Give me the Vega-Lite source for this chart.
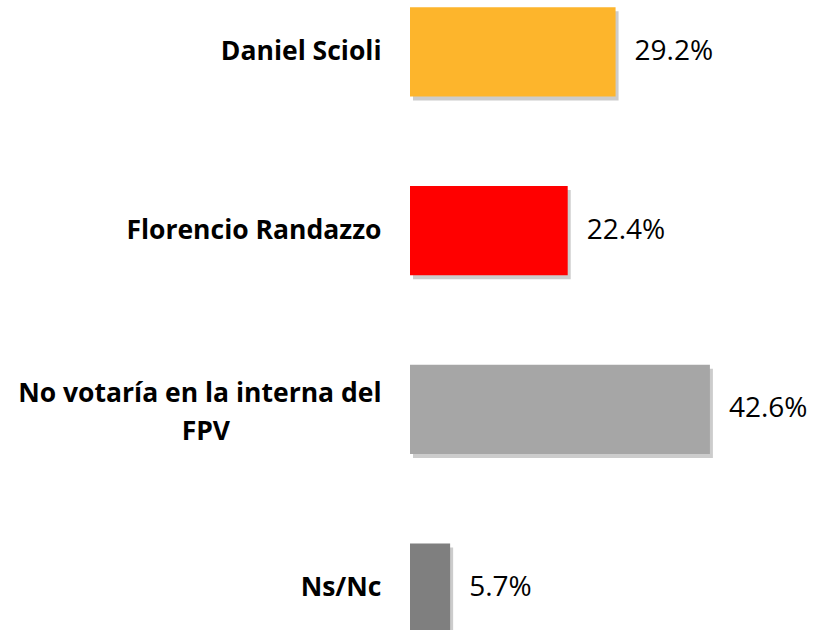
{
  "$schema": "https://vega.github.io/schema/vega-lite/v6.json",
  "autosize": "none",
  "width": 352,
  "height": 640,
  "padding": {"left": 410, "top": 0, "right": 60, "bottom": 0},
  "background": "white",
  "config": {"view": {"stroke": null}},
  "data": {"values": [
    {"cat": "Daniel Scioli", "value": 29.2, "color": "#FDB52C"},
    {"cat": "Florencio Randazzo", "value": 22.4, "color": "#FF0000"},
    {"cat": "No votaría en la interna del|FPV\u00a0\u00a0\u00a0\u00a0\u00a0\u00a0\u00a0\u00a0\u00a0\u00a0\u00a0\u00a0\u00a0\u00a0\u00a0\u00a0\u00a0\u00a0\u00a0\u00a0\u00a0\u00a0\u200b", "value": 42.6, "color": "#A6A6A6"},
    {"cat": "Ns/Nc", "value": 5.7, "color": "#7F7F7F"}
  ]},
  "encoding": {
    "y": {
      "field": "cat", "type": "nominal", "sort": null,
      "scale": {"paddingInner": 0.5, "paddingOuter": 0.04},
      "axis": {
        "title": null, "domain": false, "ticks": false,
        "labelPadding": 29, "labelFont": "Open Sans", "labelFontWeight": "bold",
        "labelFontSize": 26.5, "labelColor": "#000000", "labelLimit": 500,
        "labelLineHeight": 38,
        "labelOffset": {"condition": {"test": "indexof(datum.value, '|') >= 0", "value": -15}, "value": 0},
        "labelExpr": "split(datum.label, '|')"
      }
    },
    "x": {"field": "value", "type": "quantitative", "scale": {"domain": [0, 50]}, "axis": null}
  },
  "layer": [
    {
      "mark": {"type": "bar", "color": "#9a9a9a", "opacity": 0.5},
      "encoding": {"xOffset": {"value": 3}, "yOffset": {"value": 4}}
    },
    {
      "mark": {"type": "bar"},
      "encoding": {"color": {"field": "color", "type": "nominal", "scale": null}}
    },
    {
      "mark": {"type": "text", "align": "left", "dx": 19, "font": "Open Sans", "fontSize": 28, "color": "#000000",
        "text": {"expr": "format(datum.value, '.1f') + '%'"}},
      "encoding": {}
    }
  ]
}
